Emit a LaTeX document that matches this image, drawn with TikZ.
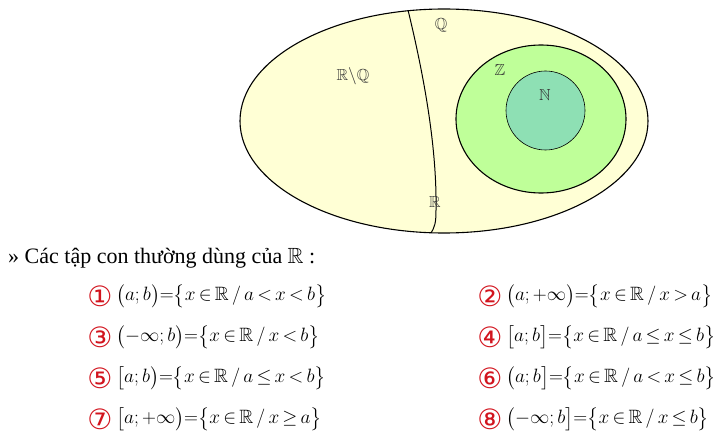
\documentclass[tikz,border=0pt]{standalone}
\usepackage{amssymb}
\usepackage{fontspec}
\setmainfont{Liberation Serif}
\newfontfamily\circfont{DejaVu Sans}
\definecolor{cyel}{RGB}{255,255,213}
\definecolor{cgreen}{RGB}{191,255,153}
\definecolor{cblue}{RGB}{142,224,180}
\definecolor{cred}{RGB}{210,20,30}
\newcommand{\tightmath}{\thickmuskip=3mu plus 1mu\medmuskip=2mu plus 1mu}
\newcommand{\bigdel}[1]{{\hbox{$\nulldelimiterspace=0pt\left#1\vcenter to 24pt{}\right.$}}}
\newcommand{\Lo}[1]{\mathopen{\bigdel{#1}}}
\newcommand{\Rc}[1]{\mathclose{\bigdel{#1}}}
\tikzset{
  setlabel/.style={font=\fontsize{16}{18}\selectfont, inner sep=0pt, text=black!80},
  formula/.style={anchor=west, inner sep=0pt, scale=0.93, transform shape, font=\fontsize{20.74}{25}\selectfont\tightmath},
  numlabel/.style={inner sep=0pt, text=cred, font=\circfont\fontsize{28}{30}\selectfont},
}
\begin{document}
\begin{tikzpicture}[x=1pt,y=-1pt]
\useasboundingbox (0,0) rectangle (718,441);
% Venn diagram
\draw[line width=1.1pt, fill=cyel] (444,121) ellipse [x radius=204, y radius=112];
\begin{scope}
  \clip (444,121) ellipse [x radius=204, y radius=112];
  \draw[line width=1pt] (408,10) .. controls (425,80) and (437,150) .. (436,210) .. controls (436,222) and (435,228) .. (430,234);
\end{scope}
\draw[line width=1.1pt, fill=cgreen] (541,119) ellipse [x radius=85, y radius=74];
\draw[line width=0.6pt, fill=cblue] (545.5,110.5) circle [radius=39.5];
\node[setlabel] (Q) at (441,25) {$\mathbb{Q}$};
\node[setlabel] (RQ) at (353,76) {$\mathbb{R}\backslash\mathbb{Q}$};
\node[setlabel] (Z) at (500,70) {$\mathbb{Z}$};
\node[setlabel] (N) at (545,95) {$\mathbb{N}$};
\node[setlabel] (R) at (435,202) {$\mathbb{R}$};
% Heading
\node[anchor=west, inner sep=0pt, font=\fontsize{22}{26}\selectfont] (head) at (8,258) {» Các tập con thường dùng của $\mathbb{R}$ :};
% Left column
\node[numlabel] (n1) at (100,296) {①};
\node[formula] (f1) at (116,296) {$\Lo(a;b\Rc)\!=\!\Lo\{x\in\mathbb{R}\,/\,a<x<b\Rc\}$};
\node[numlabel] (n3) at (100,337) {③};
\node[formula] (f3) at (116,337) {$\Lo(-\infty;b\Rc)\!=\!\Lo\{x\in\mathbb{R}\,/\,x<b\Rc\}$};
\node[numlabel] (n5) at (100,378) {⑤};
\node[formula] (f5) at (116,378) {$\Lo[a;b\Rc)\!=\!\Lo\{x\in\mathbb{R}\,/\,a\le x<b\Rc\}$};
\node[numlabel] (n7) at (100,419) {⑦};
\node[formula] (f7) at (116,419) {$\Lo[a;+\infty\Rc)\!=\!\Lo\{x\in\mathbb{R}\,/\,x\ge a\Rc\}$};
% Right column
\node[numlabel] (n2) at (490,296) {②};
\node[formula] (f2) at (506,296) {$\Lo(a;+\infty\Rc)\!=\!\Lo\{x\in\mathbb{R}\,/\,x>a\Rc\}$};
\node[numlabel] (n4) at (490,337) {④};
\node[formula] (f4) at (506,337) {$\Lo[a;b\Rc]\!=\!\Lo\{x\in\mathbb{R}\,/\,a\le x\le b\Rc\}$};
\node[numlabel] (n6) at (490,378) {⑥};
\node[formula] (f6) at (506,378) {$\Lo(a;b\Rc]\!=\!\Lo\{x\in\mathbb{R}\,/\,a<x\le b\Rc\}$};
\node[numlabel] (n8) at (490,419) {⑧};
\node[formula] (f8) at (506,419) {$\Lo(-\infty;b\Rc]\!=\!\Lo\{x\in\mathbb{R}\,/\,x\le b\Rc\}$};
\end{tikzpicture}
\end{document}
